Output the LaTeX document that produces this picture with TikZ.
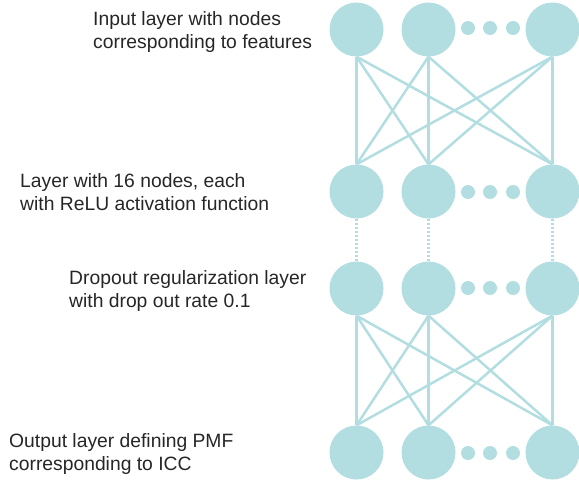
\documentclass[tikz,border=0pt]{standalone}
\usepackage{fontspec}
\setmainfont{Liberation Sans}
\definecolor{teal}{RGB}{178,222,225}
\begin{document}
\begin{tikzpicture}[x=1pt,y=-1pt,
  neuron/.style={circle,fill=teal,draw=none,minimum size=54pt,inner sep=0pt},
  smalldot/.style={circle,fill=teal,draw=none,minimum size=14pt,inner sep=0pt},
  link/.style={draw=teal,line width=2.5pt},
  droplink/.style={draw=teal,line width=2.5pt,dash pattern=on 2pt off 2pt},
  lbl/.style={anchor=base west,inner sep=0pt,align=left,font=\fontsize{19.3}{23}\selectfont,text=black!85}]
\useasboundingbox (0,0) rectangle (579,483);
% layers
\foreach \r/\y/\d in {1/29.5/28, 2/191.5/192, 3/288.5/288, 4/452.5/453}{
  \node[neuron] (n\r a) at (356.5,\y) {};
  \node[neuron] (n\r b) at (428.5,\y) {};
  \node[neuron] (n\r c) at (552.5,\y) {};
  \node[smalldot] (d\r a) at (468,\d) {};
  \node[smalldot] (d\r b) at (490,\d) {};
  \node[smalldot] (d\r c) at (513,\d) {};
}
\foreach \s in {a,b,c}{
  \foreach \t in {a,b,c}{
    \draw[link] (n1\s.south) -- (n2\t.north);
    \draw[link] (n3\s.south) -- (n4\t.north);
  }
  \draw[droplink] (n2\s.south) -- (n3\s.north);
}
% labels
\node[lbl] (t1) at (93,48) {Input layer with nodes\\corresponding to features};
\node[lbl] (t2) at (20,210) {Layer with 16 nodes, each\\with ReLU activation function};
\node[lbl] (t3) at (69,307) {Dropout regularization layer\\with drop out rate 0.1};
\node[lbl] (t4) at (9,470) {Output layer defining PMF\\corresponding to ICC};
\end{tikzpicture}
\end{document}
